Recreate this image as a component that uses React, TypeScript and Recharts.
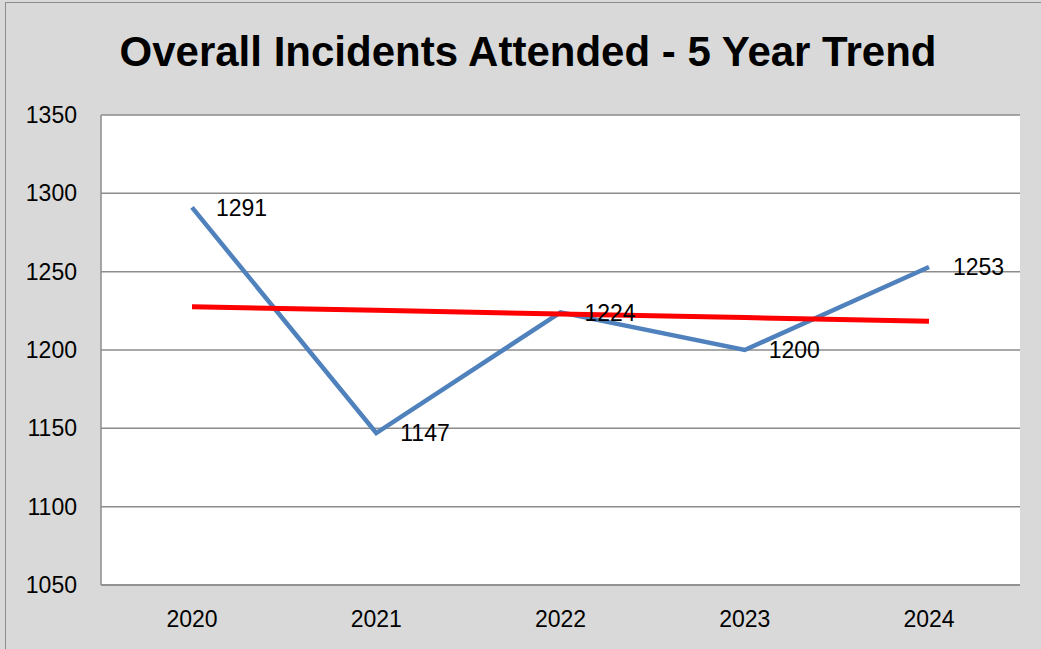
import React from 'react';
import { CartesianGrid, LabelList, Line, LineChart, XAxis, YAxis } from 'recharts';

const years = ['2020', '2021', '2022', '2023', '2024'];
const incidents = [1291, 1147, 1224, 1200, 1253];
// linear trend line
const trend = [1227.6, 1225.3, 1223, 1220.7, 1218.4];
const yTicks = [1050, 1100, 1150, 1200, 1250, 1300, 1350];

const font = '"Liberation Sans", Arial, sans-serif';

const App: React.FC = () => {
  const chartData = years.map((year, i) => ({
    year,
    incidents: incidents[i],
    trend: trend[i],
  }));

  return (
    <div
      style={{
        position: 'absolute',
        left: 0,
        top: 0,
        width: 1041,
        height: 649,
        background: '#d9d9d9',
        fontFamily: font,
      }}
    >
      <div
        style={{
          position: 'absolute',
          left: 5,
          top: 2,
          right: -2,
          bottom: -2,
          border: '1px solid #8c8c8c',
        }}
      />
      <div
        style={{
          position: 'absolute',
          left: 0,
          top: 28,
          width: 1056,
          textAlign: 'center',
          fontSize: 42,
          fontWeight: 'bold',
          color: '#000',
        }}
      >
        Overall Incidents Attended - 5 Year Trend
      </div>
      <div style={{ position: 'absolute', left: 0, top: 0 }}>
        <LineChart
          width={1041}
          height={649}
          data={chartData}
          margin={{ top: 115, right: 21, left: 0, bottom: 34 }}
        >
          <CartesianGrid vertical={false} fill="#ffffff" stroke="#8c8c8c" strokeWidth={1.5} />
          <XAxis
            dataKey="year"
            padding={{ left: 91, right: 91 }}
            height={30}
            tickLine={false}
            axisLine={{ stroke: '#8c8c8c', strokeWidth: 1.5 }}
            tickSize={0}
            tickMargin={26}
            tick={{ fontSize: 23, fill: '#000', fontFamily: font }}
          />
          <YAxis
            width={101}
            domain={[1050, 1350]}
            ticks={yTicks}
            interval={0}
            tickLine={false}
            axisLine={{ stroke: '#8c8c8c', strokeWidth: 1.5 }}
            tickSize={0}
            tickMargin={24}
            tick={{ fontSize: 23, fill: '#000', fontFamily: font }}
          />
          <Line
            dataKey="incidents"
            stroke="#4f81bd"
            strokeWidth={4.5}
            dot={false}
            isAnimationActive={false}
          >
            <LabelList
              dataKey="incidents"
              position="right"
              offset={24}
              style={{ fontSize: 23, fill: '#000', fontFamily: font }}
            />
          </Line>
          <Line
            dataKey="trend"
            stroke="#ff0000"
            strokeWidth={5}
            dot={false}
            isAnimationActive={false}
          />
        </LineChart>
      </div>
    </div>
  );
};

export default App;
